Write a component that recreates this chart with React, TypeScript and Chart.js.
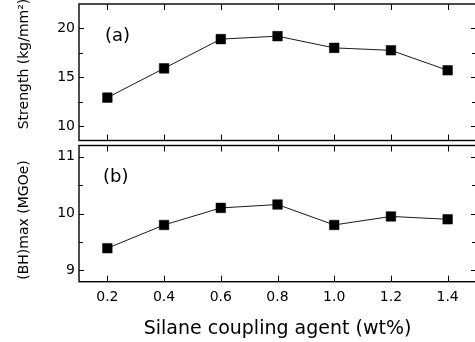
import React, { useEffect, useRef } from 'react';
import { Chart, registerables } from 'chart.js';

Chart.register(...registerables);

const xValues = [0.2, 0.4, 0.6, 0.8, 1.0, 1.2, 1.4];
const xTickLabels = ['0.2', '0.4', '0.6', '0.8', '1.0', '1.2', '1.4'];
const strength = [12.9, 15.9, 18.9, 19.2, 18.0, 17.75, 15.7];
const bhMax = [9.39, 9.8, 10.1, 10.16, 9.8, 9.95, 9.9];
const strengthTicks = [10, 15, 20];
const strengthMinorTicks = [12.5, 17.5];
const bhTicks = [9, 10, 11];
const bhMinorTicks = [9.5, 10.5];
const xTitle = 'Silane coupling agent (wt%)';
const yTitleTop = 'Strength (kg/mm\u00B2)';
const yTitleBottom = '(BH)max (MGOe)';
const panelLabelTop = '(a)';
const panelLabelBottom = '(b)';

const FONT = "'DejaVu Sans', sans-serif";

function zeroPad(s: any) {
  s.paddingTop = 0;
  s.paddingBottom = 0;
  s.paddingLeft = 0;
  s.paddingRight = 0;
}

function makeFramePlugin(
  id: string,
  major: number[],
  minor: number[],
  label: string,
  labelDX: number,
  labelDY: number,
  yTitle: string,
  yTitleCenter: number
) {
  return {
    id,
    afterDraw(chart: any) {
      const { ctx, chartArea } = chart;
      const { left, right, top, bottom } = chartArea;
      const xs = chart.scales.x;
      const ys = chart.scales.y;
      const seg = (x1: number, y1: number, x2: number, y2: number) => {
        ctx.beginPath();
        ctx.moveTo(x1, y1);
        ctx.lineTo(x2, y2);
        ctx.stroke();
      };
      ctx.save();
      ctx.strokeStyle = '#000';
      ctx.lineWidth = 1.4;
      ctx.strokeRect(left, top, right - left, bottom - top);
      ctx.lineWidth = 1;
      xValues.forEach((v) => {
        const px = Math.round(xs.getPixelForValue(v)) + 0.5;
        seg(px, top, px, top + 6);
        seg(px, bottom, px, bottom - 6);
      });
      major.forEach((v) => {
        const py = Math.round(ys.getPixelForValue(v)) + 0.5;
        seg(left, py, left + 5, py);
        seg(right, py, right - 5, py);
      });
      minor.forEach((v) => {
        const py = Math.round(ys.getPixelForValue(v)) + 0.5;
        seg(left, py, left + 4, py);
        seg(right, py, right - 4, py);
      });
      ctx.fillStyle = '#000';
      ctx.font = `18px ${FONT}`;
      ctx.textAlign = 'left';
      ctx.textBaseline = 'middle';
      ctx.fillText(label, left + labelDX, top + labelDY);
      ctx.translate(27.5, yTitleCenter);
      ctx.rotate(-Math.PI / 2);
      ctx.font = `14px ${FONT}`;
      ctx.textAlign = 'center';
      ctx.textBaseline = 'alphabetic';
      ctx.fillText(yTitle, 0, 0);
      ctx.restore();
    },
  };
}

const datasetStyle = {
  borderColor: '#1a1a1a',
  borderWidth: 1,
  pointStyle: 'rect',
  pointRadius: 6.8,
  pointBackgroundColor: '#000',
  pointBorderColor: '#000',
  pointBorderWidth: 0.5,
  tension: 0,
  fill: false,
};

export default function App() {
  const topRef = useRef<HTMLCanvasElement>(null);
  const botRef = useRef<HTMLCanvasElement>(null);

  useEffect(() => {
    const c1 = new Chart(topRef.current as HTMLCanvasElement, {
      type: 'line',
      data: {
        datasets: [
          {
            ...datasetStyle,
            data: xValues.map((x, i) => ({ x, y: strength[i] })),
          } as any,
        ],
      },
      options: {
        animation: false,
        responsive: false,
        layout: { autoPadding: false, padding: { top: 4, right: 2, bottom: 2.5, left: 0 } },
        plugins: { legend: { display: false }, tooltip: { enabled: false } },
        scales: {
          x: { type: 'linear', min: 0.1, max: 1.5, display: false, afterFit: zeroPad },
          y: {
            type: 'linear',
            min: 8.5,
            max: 22.5,
            afterFit: (s: any) => {
              s.width = 79;
              zeroPad(s);
            },
            afterBuildTicks: (s: any) => {
              s.ticks = strengthTicks.map((v) => ({ value: v }));
            },
            grid: { display: false, drawTicks: false },
            border: { display: false },
            ticks: { padding: 4, color: '#000', font: { family: FONT, size: 14 } },
          },
        },
      } as any,
      plugins: [
        makeFramePlugin('frameTop', strengthTicks, strengthMinorTicks, panelLabelTop, 26, 32, yTitleTop, 64),
      ],
    });

    const c2 = new Chart(botRef.current as HTMLCanvasElement, {
      type: 'line',
      data: {
        datasets: [
          {
            ...datasetStyle,
            data: xValues.map((x, i) => ({ x, y: bhMax[i] })),
          } as any,
        ],
      },
      options: {
        animation: false,
        responsive: false,
        layout: { autoPadding: false, padding: { top: 2.5, right: 2, bottom: 0, left: 0 } },
        plugins: { legend: { display: false }, tooltip: { enabled: false } },
        scales: {
          x: {
            type: 'linear',
            min: 0.1,
            max: 1.5,
            afterFit: (s: any) => {
              s.height = 60.3;
              zeroPad(s);
            },
            afterBuildTicks: (s: any) => {
              s.ticks = xValues.map((v) => ({ value: v }));
            },
            grid: { display: false, drawTicks: false },
            border: { display: false },
            ticks: {
              padding: 7,
              color: '#000',
              maxRotation: 0,
              autoSkip: false,
              font: { family: FONT, size: 14 },
              callback: (_v: any, i: number) => xTickLabels[i],
            },
            title: {
              display: true,
              text: xTitle,
              color: '#000',
              font: { family: FONT, size: 19 },
              padding: { top: 0, bottom: 2 },
            },
          },
          y: {
            type: 'linear',
            min: 8.8,
            max: 11.2,
            afterFit: (s: any) => {
              s.width = 79;
              zeroPad(s);
            },
            afterBuildTicks: (s: any) => {
              s.ticks = bhTicks.map((v) => ({ value: v }));
            },
            grid: { display: false, drawTicks: false },
            border: { display: false },
            ticks: { padding: 4, color: '#000', font: { family: FONT, size: 14 } },
          },
        },
      } as any,
      plugins: [
        makeFramePlugin('frameBottom', bhTicks, bhMinorTicks, panelLabelBottom, 24, 32, yTitleBottom, 77),
      ],
    });

    return () => {
      c1.destroy();
      c2.destroy();
    };
  }, []);

  return (
    <div
      style={{
        position: 'fixed',
        left: 0,
        top: 0,
        width: 475,
        height: 342,
        overflow: 'hidden',
        background: '#fff',
      }}
    >
      <canvas ref={topRef} width={478} height={143} style={{ position: 'absolute', left: 0, top: 0 }} />
      <canvas ref={botRef} width={478} height={199} style={{ position: 'absolute', left: 0, top: 143 }} />
    </div>
  );
}
